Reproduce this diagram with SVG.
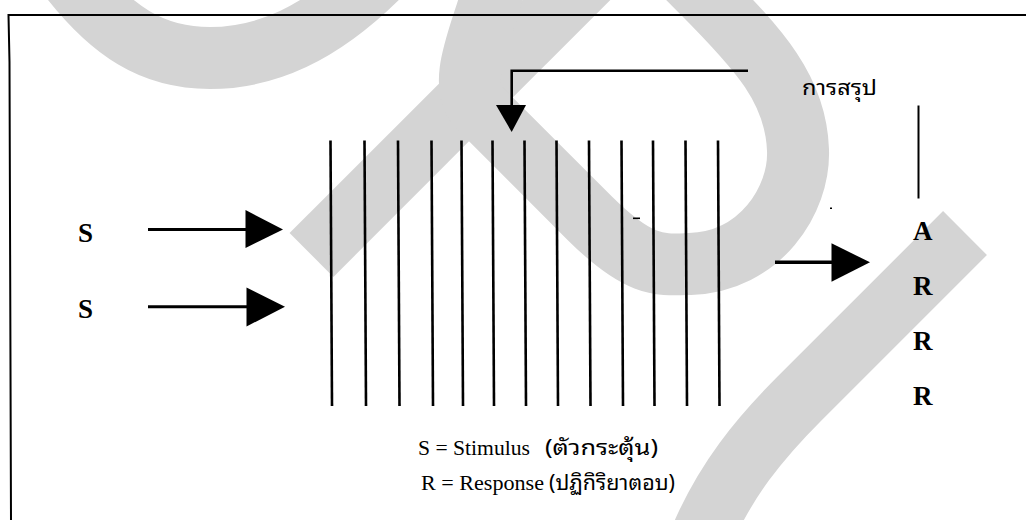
<svg xmlns="http://www.w3.org/2000/svg" width="1026" height="520" viewBox="0 0 1026 520">
<style>
.wm{fill:none;stroke:#d4d4d4;stroke-width:62;stroke-linecap:butt;stroke-linejoin:round}
.ln{stroke:#000;fill:none;stroke-linecap:butt}
.vl{stroke:#000;stroke-width:2.6;fill:none}
.ah{fill:#000;stroke:none}
.lbl{font-family:"Liberation Serif","Times New Roman",serif;font-weight:bold;font-size:27px;fill:#000}
.cap{font-family:"Liberation Serif","Times New Roman",serif;font-size:22px;fill:#000}
.th{font-family:"Noto Sans Thai Looped","Noto Serif Thai","Kinnari","Norasi","Garuda","Loma","Noto Sans Thai","Liberation Serif",serif;fill:#000}
</style>
<rect x="0" y="0" width="1026" height="520" fill="#fff"/>
<g id="watermark">
<path class="wm" d="M 50,-50 C 110,40 160,58 210,58 C 265,58 320,35 380,-25"/>
<path class="wm" d="M 311.5,255 L 620,-53.5"/>
<path class="wm" d="M 498,-30 C 490,20 452,81 480,108.5 L 590,218.5 C 640,268 660,265 690,264 C 760,262 800,200 798,150 C 796,90 760,50 700,-10 L 660,-50"/>
<path class="wm" d="M 965,233 L 800,398 C 760,438 725,480 700,540"/>
</g>
<g id="frame">
<path class="ln" stroke-width="2" d="M 11,520 L 9.5,62 L 8.5,15 L 1026,15"/>
</g>
<g id="stimulus-1"><text class="lbl" x="78" y="242">S</text></g>
<g id="stimulus-2"><text class="lbl" x="78" y="318">S</text></g>
<g id="process">
<line class="vl" x1="330.5" y1="140.5" x2="332" y2="406"/>
<line class="vl" x1="364.5" y1="140.5" x2="366" y2="406"/>
<line class="vl" x1="398" y1="140.5" x2="399.5" y2="406"/>
<line class="vl" x1="431.5" y1="140.5" x2="433" y2="406"/>
<line class="vl" x1="461.5" y1="140.5" x2="463" y2="406"/>
<line class="vl" x1="492.5" y1="140.5" x2="494" y2="406"/>
<line class="vl" x1="524.5" y1="140.5" x2="526" y2="406"/>
<line class="vl" x1="556.5" y1="140.5" x2="558" y2="406"/>
<line class="vl" x1="589" y1="140.5" x2="590.5" y2="406"/>
<line class="vl" x1="621.5" y1="140.5" x2="623" y2="406"/>
<line class="vl" x1="653" y1="140.5" x2="654.5" y2="406"/>
<line class="vl" x1="685.5" y1="140.5" x2="687" y2="406"/>
<line class="vl" x1="718" y1="140.5" x2="719.5" y2="406"/>
<line class="ln" stroke-width="1.6" x1="633" y1="218.3" x2="640" y2="218.3"/>
</g>
<g id="conclusion">
<text class="th" x="802" y="95" font-size="21" textLength="75" lengthAdjust="spacingAndGlyphs">การสรุป</text>
<line class="ln" stroke-width="2" x1="918.5" y1="105.5" x2="918.5" y2="198.5"/>
<rect x="830" y="207.5" width="2" height="1.5" fill="#000"/>
</g>
<g id="responses">
<text class="lbl" x="913" y="240">A</text>
<text class="lbl" x="913" y="295">R</text>
<text class="lbl" x="913" y="350">R</text>
<text class="lbl" x="913" y="405">R</text>
</g>
<g id="connectors">
<line class="ln" stroke-width="3" x1="148" y1="229.5" x2="247" y2="229.5"/>
<polygon class="ah" points="245.5,210 245.5,248 283,229.5"/>
<line class="ln" stroke-width="3" x1="148" y1="306.7" x2="248" y2="306.7"/>
<polygon class="ah" points="246.5,287.5 246.5,326.5 285,306.7"/>
<polyline class="ln" stroke-width="2.6" points="748,70.7 511.7,70.7 511.7,106"/>
<polygon class="ah" points="496,105 526,105 511.7,132"/>
<line class="ln" stroke-width="3.5" x1="775" y1="262.3" x2="833" y2="262.3"/>
<polygon class="ah" points="831.5,243.3 831.5,281.7 870,262.3"/>
</g>
<g id="legend">
<text class="cap" x="418" y="455" textLength="112" lengthAdjust="spacingAndGlyphs">S = Stimulus</text>
<text class="th" x="545" y="455" font-size="21" textLength="113" lengthAdjust="spacingAndGlyphs">(ตัวกระตุ้น)</text>
<text class="cap" x="421" y="490" textLength="123" lengthAdjust="spacingAndGlyphs">R = Response</text>
<text class="th" x="549" y="490" font-size="21" textLength="126" lengthAdjust="spacingAndGlyphs">(ปฏิกิริยาตอบ)</text>
</g>
</svg>
